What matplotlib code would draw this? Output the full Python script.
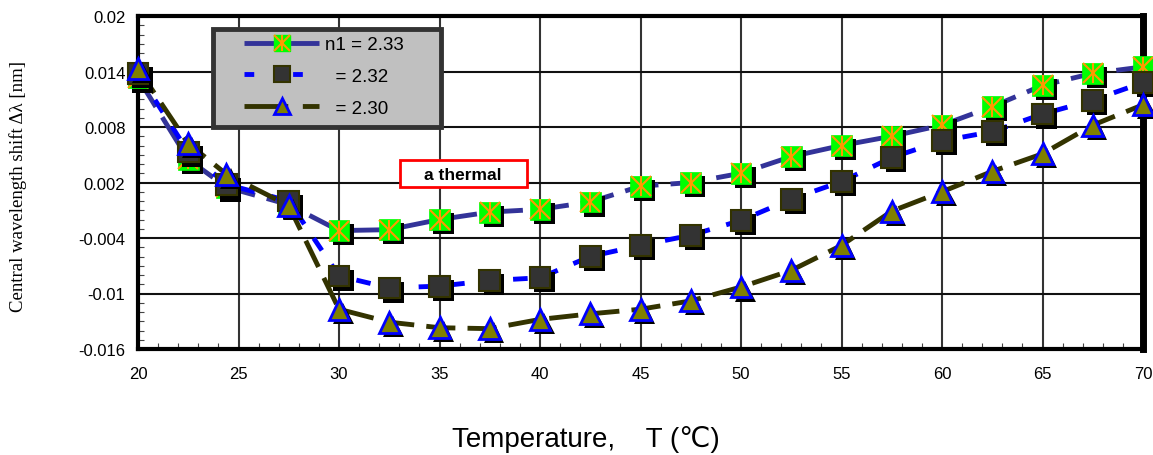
import matplotlib
matplotlib.use("Agg")
import matplotlib.pyplot as plt
import matplotlib.patheffects as pe
from matplotlib.lines import Line2D
from matplotlib.patches import Rectangle
from matplotlib.ticker import MultipleLocator

temps = [20, 22.5, 24.4, 27.5, 30, 32.5, 35, 37.5, 40, 42.5, 45, 47.5, 50,
         52.5, 55, 57.5, 60, 62.5, 65, 67.5, 70]
n233 = [0.0133, 0.0045, 0.0015, -0.0004, -0.0032, -0.0031, -0.0020, -0.0012,
        -0.0009, -0.0001, 0.0016, 0.0020, 0.0030, 0.0048, 0.0060, 0.0070,
        0.0082, 0.0102, 0.0125, 0.0138, 0.0145]
n232 = [0.0138, 0.0053, 0.0018, 0.0000, -0.0081, -0.0094, -0.0092, -0.0086,
        -0.0083, -0.0060, -0.0048, -0.0037, -0.0021, 0.0002, 0.0021, 0.0047,
        0.0065, 0.0075, 0.0094, 0.0109, 0.0128]
n230 = [0.0143, 0.0062, 0.0029, -0.0005, -0.0117, -0.0131, -0.0137, -0.0138,
        -0.0128, -0.0122, -0.0117, -0.0108, -0.0093, -0.0075, -0.0048, -0.0011,
        0.0010, 0.0032, 0.0051, 0.0082, 0.0104]
labels = ["n1 = 2.33", "  = 2.32", "  = 2.30"]
xticks = [20, 25, 30, 35, 40, 45, 50, 55, 60, 65, 70]
yticks = [-0.016, -0.01, -0.004, 0.002, 0.008, 0.014, 0.02]
ytick_labels = ["-0.016", "-0.01", "-0.004", "0.002", "0.008", "0.014", "0.02"]

plt.rcParams['font.family'] = ['Liberation Sans', 'DejaVu Sans']

W, H = 1153, 456
L, R, T, B = 138, 1143, 17, 350
fig = plt.figure(figsize=(W/100, H/100), dpi=100)
ax = fig.add_axes([L/W, 1 - B/H, (R-L)/W, (B-T)/H])

def ax_xy(px, py):
    return ((px - L) / (R - L), (B - py) / (B - T))

ax.set_xlim(20, 70)
ax.set_ylim(-0.016, 0.02)
ax.set_xticks(xticks)
ax.set_xticklabels([str(t) for t in xticks])
ax.set_yticks(yticks)
ax.set_yticklabels(ytick_labels)
ax.xaxis.set_minor_locator(MultipleLocator(1))
ax.yaxis.set_minor_locator(MultipleLocator(0.001))
ax.tick_params(axis='both', which='both', direction='in', labelsize=12)
ax.tick_params(axis='both', which='major', length=0)
ax.tick_params(axis='both', which='minor', length=4, width=0.8, color='#444444')
ax.tick_params(axis='x', which='major', pad=12)
ax.tick_params(axis='y', which='major', pad=9)
ax.grid(True, which='major', axis='x', color='#333333', linewidth=1.5)
ax.grid(True, which='major', axis='y', color='#111111', linewidth=1.5)
ax.set_axisbelow(True)
for s in ax.spines.values():
    s.set_linewidth(3)
    s.set_color('black')
ax.spines['right'].set_linewidth(5)

shadow = [pe.SimplePatchShadow(offset=(3, -3), shadow_rgbFace='black', alpha=1.0), pe.Normal()]

# series lines
ax.plot(temps, n233, color='#333399', linewidth=3.5, dashes=(7, 2.5), zorder=3)
ax.plot(temps, n232, color='#0000ff', linewidth=3.5, dashes=(3, 3.5), zorder=3)
ax.plot(temps, n230, color='#333300', linewidth=3.5, dashes=(6, 2.5), zorder=3)

ms = 15
ax.plot(temps, n230, linestyle='none', marker='^', markersize=ms, markerfacecolor='#808000',
        markeredgecolor='#0000ff', markeredgewidth=2, zorder=6, path_effects=shadow, clip_on=False)
ax.plot(temps, n232, linestyle='none', marker='s', markersize=ms, markerfacecolor='#333333',
        markeredgecolor='#333300', markeredgewidth=1.5, zorder=5, path_effects=shadow, clip_on=False)
ax.plot(temps, n233, linestyle='none', marker='s', markersize=ms, markerfacecolor='#00ff00',
        markeredgecolor='#00ff00', markeredgewidth=0.5, zorder=4, path_effects=shadow, clip_on=False)
ax.plot(temps, n233, linestyle='none', marker='x', markersize=ms, markeredgecolor='#ff9900',
        markeredgewidth=1.5, zorder=4.1, clip_on=False)
ax.plot(temps, n233, linestyle='none', marker='|', markersize=ms, markeredgecolor='#ff9900',
        markeredgewidth=1.5, zorder=4.1, clip_on=False)

# legend frame
x0, y0 = ax_xy(213, 128)
x1, y1 = ax_xy(441, 30)
ax.add_patch(Rectangle((x0, y0), x1 - x0, y1 - y0, transform=ax.transAxes,
                       facecolor='#c0c0c0', edgecolor='#333333', linewidth=3.5, zorder=9))

h1 = (Line2D([], [], color='#333399', linewidth=3.5, dashes=(7, 2.5)),
      Line2D([], [], linestyle='none', marker='s', markersize=11, markerfacecolor='#00ff00',
             markeredgecolor='#00ff00'),
      Line2D([], [], linestyle='none', marker='x', markersize=11, markeredgecolor='#ff9900', markeredgewidth=1.5),
      Line2D([], [], linestyle='none', marker='|', markersize=11, markeredgecolor='#ff9900', markeredgewidth=1.5))
h2 = (Line2D([], [], color='#0000ff', linewidth=3.5, dashes=(2, 8)),
      Line2D([], [], linestyle='none', marker='s', markersize=11, markerfacecolor='#333333',
             markeredgecolor='#333300', markeredgewidth=1.5))
h3 = (Line2D([], [], color='#333300', linewidth=3.5, dashes=(9, 3)),
      Line2D([], [], linestyle='none', marker='^', markersize=11, markerfacecolor='#808000',
             markeredgecolor='#0000ff', markeredgewidth=2))
lx, ly = ax_xy(244, 37)
leg = ax.legend([h1, h2, h3], labels, loc='upper left', bbox_to_anchor=(lx, ly),
                fontsize=13.5, frameon=False, handlelength=4.0,
                handletextpad=0.3, labelspacing=0.78, borderpad=0, borderaxespad=0)
leg.set_zorder(10)

# annotation box
bx0, by0 = ax_xy(400, 188)
bx1, by1 = ax_xy(527, 161)
ax.add_patch(Rectangle((bx0, by0), bx1 - bx0, by1 - by0, transform=ax.transAxes,
                       facecolor='white', edgecolor='red', linewidth=2, zorder=11))
tx, ty = ax_xy(463, 175)
ax.text(tx, ty, "a thermal", transform=ax.transAxes, fontsize=12.5, fontweight='bold',
        ha='center', va='center', zorder=12)

# axis labels
fig.text(586/W, 1 - 440/H, "Temperature,    T (\u2103)", fontsize=20, ha='center', va='center',
         family=['Liberation Sans', 'DejaVu Sans'])
fig.text(18/W, 1 - 187/H, "Central wavelength shift \u0394\u03bb [nm]", fontsize=13.5,
         rotation=90, ha='center', va='center', family=['Liberation Serif', 'DejaVu Serif'])

fig.savefig("out.png", dpi=100)
